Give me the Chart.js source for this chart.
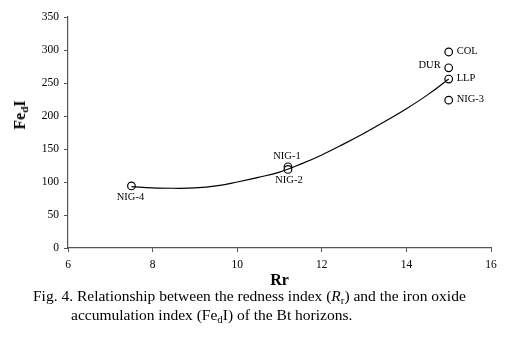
<!DOCTYPE html>
<html>
<head>
<meta charset="utf-8">
<script src="https://cdn.jsdelivr.net/npm/chart.js@4"></script>
<style>
  body { margin: 0; background: #fff; width: 508px; height: 340px; overflow: hidden; position: relative; font-family: "Liberation Serif", "DejaVu Serif", serif; }
  #wrap { position: absolute; left: 0; top: 0; width: 508px; height: 290px; }
  #ytitle { position: absolute; left: 20px; top: 115px; transform: translate(-50%, -50%) rotate(-90deg); font-weight: bold; font-size: 16px; white-space: nowrap; }
  #ytitle sub, #caption sub { font-size: 70%; vertical-align: -0.3em; line-height: 0; }
  #caption { position: absolute; left: 33px; top: 286px; font-size: 15.5px; line-height: 19px; color: #000; }
  #caption .l2 { padding-left: 38px; }
</style>
</head>
<body>
<div id="wrap"><canvas id="c"></canvas></div>
<div id="ytitle">Fe<sub>d</sub>I</div>
<div id="caption">Fig. 4. Relationship between the redness index (<i>R</i><sub>r</sub>) and the iron oxide<br><span class="l2">accumulation index (Fe<sub>d</sub>I) of the Bt horizons.</span></div>
<script>
// sample points
const sampleNames = ["NIG-4", "NIG-1", "NIG-2", "COL", "DUR", "LLP", "NIG-3"];
const sampleRr = [7.5, 11.2, 11.2, 15, 15, 15, 15];
const sampleFedI = [94, 123, 119, 297, 273, 256, 224];
// where each label sits relative to its point
const labelSide = ["below", "above", "below", "right", "left", "right", "right"];

// trend curve
const trendRr = [7.5, 8, 8.5, 9, 9.5, 10, 10.5, 11, 11.5, 12, 12.5, 13, 13.5, 14, 14.5, 15];
const trendFedI = [93, 91, 90.5, 91, 94, 100, 107, 115, 127, 141, 157, 174, 192, 211, 232, 256];

const xTicks = [6, 8, 10, 12, 14, 16];
const yTicks = [0, 50, 100, 150, 200, 250, 300, 350];

const pointLabels = {
    id: 'pointLabels',
    afterDatasetsDraw(chart) {
        const ctx = chart.ctx;
        const meta = chart.getDatasetMeta(1);
        ctx.save();
        ctx.font = '10.5px "Liberation Serif", serif';
        ctx.fillStyle = '#000';
        meta.data.forEach((pt, i) => {
            const side = labelSide[i];
            let x = pt.x, y = pt.y;
            if (side === 'right') { ctx.textAlign = 'left'; ctx.textBaseline = 'middle'; x += 8; y -= 1; }
            else if (side === 'left') { ctx.textAlign = 'right'; ctx.textBaseline = 'middle'; x -= 8; y -= 3; }
            else if (side === 'above') { ctx.textAlign = 'center'; ctx.textBaseline = 'bottom'; y -= 5; x -= 1; }
            else { ctx.textAlign = 'center'; ctx.textBaseline = 'top'; y += 6; x += (i === 0 ? -1 : 1); }
            ctx.fillText(sampleNames[i], x, y);
        });
        ctx.restore();
    }
};

new Chart(document.getElementById('c'), {
    type: 'scatter',
    data: {
        datasets: [{
            type: 'line',
            data: trendRr.map((x, i) => ({ x: x, y: trendFedI[i] })),
            borderColor: '#000',
            borderWidth: 1.2,
            pointRadius: 0,
            tension: 0.4,
            fill: false
        }, {
            data: sampleRr.map((x, i) => ({ x: x, y: sampleFedI[i] })),
            pointRadius: 3.8,
            pointBorderWidth: 1.2,
            pointBorderColor: '#000',
            pointBackgroundColor: '#fff'
        }]
    },
    options: {
        responsive: true,
        maintainAspectRatio: false,
        animation: false,
        events: [],
        layout: { padding: { top: 17, right: 17, left: 0, bottom: 0 } },
        plugins: { legend: { display: false }, tooltip: { enabled: false } },
        scales: {
            x: {
                type: 'linear',
                min: 6, max: 16,
                afterBuildTicks: s => { s.ticks = xTicks.map(v => ({ value: v })); },
                afterFit: s => { s.height = 42; },
                grid: { drawOnChartArea: false, tickLength: 4, color: '#555' },
                border: { color: '#555', width: 1.2 },
                ticks: { color: '#000', padding: 6, font: { family: 'Liberation Serif', size: 11.5 } },
                title: { display: true, text: 'Rr', color: '#000', padding: { top: 0, bottom: 0 }, font: { family: 'Liberation Serif', size: 16, weight: 'bold' } }
            },
            y: {
                min: 0, max: 350,
                afterBuildTicks: s => { s.ticks = yTicks.map(v => ({ value: v })); },
                afterFit: s => { s.width = 68; },
                grid: { drawOnChartArea: false, tickLength: 4, color: '#555' },
                border: { color: '#555', width: 1.2 },
                ticks: { color: '#000', padding: 5, font: { family: 'Liberation Serif', size: 11.5 } }
            }
        }
    },
    plugins: [pointLabels]
});
</script>
</body>
</html>
